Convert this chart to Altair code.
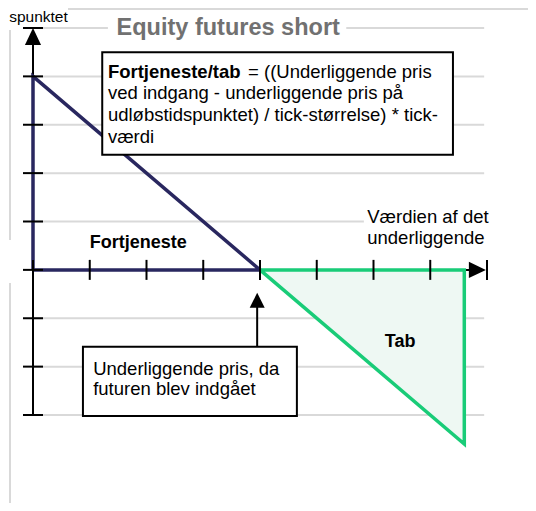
import altair as alt
import pandas as pd

# ---------------- data ----------------
grid_levels = [-3, -2, -1, 0, 1, 2, 3, 4, 5]
grid_start = 0
grid_end = 7.95
x_tick_values = [0, 1, 2, 3, 4, 5, 6, 7, 8]
y_tick_values = [-3, -2, -1, 0, 1, 2, 3, 4, 5]

profit_x = [0, 0, 4, 0]
profit_y = [0, 4, 0, 0]
loss_x = [4, 7.6, 7.6, 4]
loss_y = [0, 0, -3.6, 0]
loss_fill_x = [4, 7.6]
loss_fill_y = [0, -3.6]

entry_price = 3.95
entry_arrow_tip = -0.475
entry_arrow_base = -1.59

formula_box = dict(x=1.22, x2=7.40, y=4.50, y2=2.38)
entry_box = dict(x=0.88, x2=4.65, y=-1.59, y2=-3.02)

title_text = "Equity futures short"
formula_bold = "Fortjeneste/tab"
formula_lines = [
    "= ((Underliggende pris",
    "ved indgang - underliggende pris på",
    "udløbstidspunktet) / tick-størrelse) * tick-",
    "værdi",
]
formula_line_y = [4.09, 3.65, 3.20, 2.75]
formula_line_x = [3.79, 1.32, 1.32, 1.32]
entry_lines = ["Underliggende pris, da", "futuren blev indgået"]
entry_line_y = [-2.05, -2.46]
x_label_lines = ["Værdien af det", "underliggende"]
x_label_y = [1.10, 0.66]
y_label_text = "spunktet"

NAVY = "#29275f"
GREEN = "#19cc78"
GREEN_FILL = "#eef8f3"
GRID = "#d9d9d9"
FONT = "Liberation Sans"
FS = 18.5

xs = alt.Scale(domain=[0, 8], range=[25, 479], nice=False, zero=False)
ys = alt.Scale(domain=[-3, 5], range=[407, 20], nice=False, zero=False)


def X(f):
    return alt.X(f, type="quantitative", scale=xs, axis=None)


def Y(f):
    return alt.Y(f, type="quantitative", scale=ys, axis=None)


one = pd.DataFrame({"a": [0]})

# ---------------- frame (decoration) ----------------
frame_top = alt.Chart(one).mark_rule(color=GRID, strokeWidth=2).encode(
    x=alt.value(60), x2=alt.value(520), y=alt.value(1))
frame_left1 = alt.Chart(one).mark_rule(color=GRID, strokeWidth=2).encode(
    x=alt.value(2), y=alt.value(22), y2=alt.value(232))
frame_left2 = alt.Chart(one).mark_rule(color=GRID, strokeWidth=2).encode(
    x=alt.value(2), y=alt.value(275), y2=alt.value(495))

# ---------------- grid ----------------
grid_df = pd.DataFrame({"y": grid_levels, "x0": grid_start, "x1": grid_end})
grid = alt.Chart(grid_df).mark_rule(color=GRID, strokeWidth=2).encode(
    y=Y("y"), x=X("x0"), x2="x1")

# ---------------- loss fill ----------------
fill_df = pd.DataFrame({"x": loss_fill_x, "y": loss_fill_y, "y2": [0, 0]})
loss_fill = alt.Chart(fill_df).mark_area(color=GREEN_FILL, opacity=1).encode(
    x=X("x"), y=Y("y"), y2="y2")

# ---------------- axes ----------------
yaxis_df = pd.DataFrame({"x": [0], "y": [-3], "y2": [4.7]})
yaxis = alt.Chart(yaxis_df).mark_rule(color="black", strokeWidth=2).encode(
    x=X("x"), y=Y("y"), y2="y2")
xaxis_df = pd.DataFrame({"y": [0], "x": [0], "x2": [7.7]})
xaxis = alt.Chart(xaxis_df).mark_rule(color="black", strokeWidth=2).encode(
    x=X("x"), x2="x2", y=Y("y"))

# ---------------- outlines ----------------
profit_df = pd.DataFrame({"x": profit_x, "y": profit_y, "i": range(len(profit_x))})
profit = alt.Chart(profit_df).mark_line(color=NAVY, strokeWidth=3.5).encode(
    x=X("x"), y=Y("y"), order="i:Q")
loss_df = pd.DataFrame({"x": loss_x, "y": loss_y, "i": range(len(loss_x))})
loss = alt.Chart(loss_df).mark_line(color=GREEN, strokeWidth=3.5).encode(
    x=X("x"), y=Y("y"), order="i:Q")

# ---------------- ticks ----------------
ytick_df = pd.DataFrame({"x": 0, "y": y_tick_values})
yticks = alt.Chart(ytick_df).mark_tick(orient="horizontal", size=20, thickness=2, color="black", opacity=1).encode(
    x=X("x"), y=Y("y"))
xtick_df = pd.DataFrame({"x": x_tick_values, "y": 0})
xticks = alt.Chart(xtick_df).mark_tick(orient="vertical", size=20, thickness=2, color="black", opacity=1).encode(
    x=X("x"), y=Y("y"))

# ---------------- arrow heads ----------------
up_df = pd.DataFrame({"x": [0], "y": [5]})
up_arrow = alt.Chart(up_df).mark_point(shape="M0,0L-0.95,2L0.95,2Z", size=289, filled=True,
                                       color="black", opacity=1).encode(x=X("x"), y=Y("y"))
right_df = pd.DataFrame({"x": [7.98], "y": [0]})
right_arrow = alt.Chart(right_df).mark_point(shape="M0,0L-2,-0.95L-2,0.95Z", size=289, filled=True,
                                             color="black", opacity=1).encode(x=X("x"), y=Y("y"))
entry_df = pd.DataFrame({"x": [entry_price], "y": [entry_arrow_tip]})
entry_head = alt.Chart(entry_df).mark_point(shape="M0,0L-1,2L1,2Z", size=225, filled=True,
                                            color="black", opacity=1).encode(x=X("x"), y=Y("y"))
shaft_df = pd.DataFrame({"x": [entry_price], "y": [entry_arrow_tip - 0.2], "y2": [entry_arrow_base]})
entry_shaft = alt.Chart(shaft_df).mark_rule(color="black", strokeWidth=2).encode(
    x=X("x"), y=Y("y"), y2="y2")

# ---------------- boxes ----------------
box_df = pd.DataFrame([formula_box, entry_box])
boxes = alt.Chart(box_df).mark_rect(fill="white", stroke="black", strokeWidth=2).encode(
    x=X("x"), x2="x2", y=Y("y"), y2="y2")

# white backgrounds behind free text
bg_df = pd.DataFrame({"x": [1.32, 5.83], "x2": [5.52, 8.0], "y": [4.85, 0.8], "y2": [5.15, 1.2]})
text_bg = alt.Chart(bg_df).mark_rect(fill="white").encode(
    x=X("x"), x2="x2", y=Y("y"), y2="y2")

# ---------------- texts ----------------
title = alt.Chart(pd.DataFrame({"x": [3.44], "y": [5.0], "t": [title_text]})).mark_text(
    font=FONT, fontSize=23.5, fontWeight="bold", color="#717171", align="center", baseline="middle").encode(
    x=X("x"), y=Y("y"), text="t:N")

fb = alt.Chart(pd.DataFrame({"x": [1.32], "y": [formula_line_y[0]], "t": [formula_bold]})).mark_text(
    font=FONT, fontSize=FS, fontWeight="bold", color="black", align="left", baseline="middle").encode(
    x=X("x"), y=Y("y"), text="t:N")
fl = alt.Chart(pd.DataFrame({"x": formula_line_x, "y": formula_line_y, "t": formula_lines})).mark_text(
    font=FONT, fontSize=FS, color="black", align="left", baseline="middle").encode(
    x=X("x"), y=Y("y"), text="t:N")

entry_txt = alt.Chart(pd.DataFrame({"x": [1.06, 1.06], "y": entry_line_y, "t": entry_lines})).mark_text(
    font=FONT, fontSize=FS, color="black", align="left", baseline="middle").encode(
    x=X("x"), y=Y("y"), text="t:N")

xlabel = alt.Chart(pd.DataFrame({"x": [5.89, 5.89], "y": x_label_y, "t": x_label_lines})).mark_text(
    font=FONT, fontSize=FS, color="black", align="left", baseline="middle").encode(
    x=X("x"), y=Y("y"), text="t:N")

fort_label = alt.Chart(pd.DataFrame({"x": [1.0], "y": [0.56], "t": ["Fortjeneste"]})).mark_text(
    font=FONT, fontSize=18, fontWeight="bold", color="black", align="left", baseline="middle").encode(
    x=X("x"), y=Y("y"), text="t:N")
tab_label = alt.Chart(pd.DataFrame({"x": [6.47], "y": [-1.49], "t": ["Tab"]})).mark_text(
    font=FONT, fontSize=18, fontWeight="bold", color="black", align="center", baseline="middle").encode(
    x=X("x"), y=Y("y"), text="t:N")

ylabel = alt.Chart(pd.DataFrame({"x": [-0.42], "y": [5.23], "t": [y_label_text]})).mark_text(
    font=FONT, fontSize=15.5, color="black", align="left", baseline="middle").encode(
    x=X("x"), y=Y("y"), text="t:N")

chart = alt.layer(
    frame_top, frame_left1, frame_left2,
    grid, loss_fill, yaxis, xaxis, profit, loss, yticks, xticks,
    up_arrow, right_arrow, entry_shaft, entry_head,
    boxes, text_bg, title, fb, fl, entry_txt, xlabel, fort_label, tab_label, ylabel,
).properties(
    width=520, height=495, autosize=alt.AutoSizeParams(type="none"), padding=0
).configure_view(stroke=None)

chart.save("out.html", embed_options={"renderer": "svg", "actions": False})
